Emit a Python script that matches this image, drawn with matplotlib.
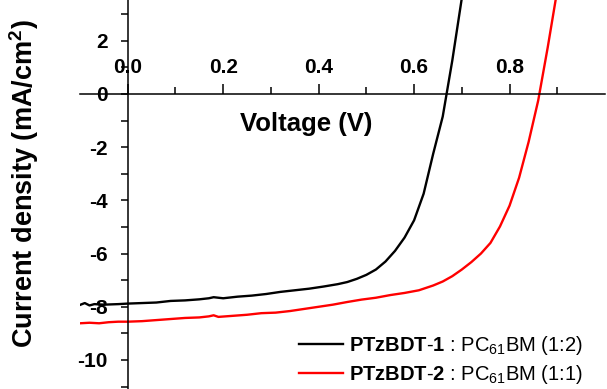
import matplotlib
matplotlib.use("Agg")
import matplotlib.pyplot as plt
from matplotlib.ticker import FixedLocator

plt.rcParams['font.family'] = ['Liberation Sans', 'DejaVu Sans']
plt.rcParams['mathtext.fontset'] = 'custom'
plt.rcParams['mathtext.rm'] = 'Liberation Sans'
plt.rcParams['mathtext.bf'] = 'Liberation Sans:bold'
plt.rcParams['mathtext.default'] = 'regular'
plt.rcParams['axes.unicode_minus'] = False

# ---- data ----
v_black = [-0.10, -0.09, -0.08, -0.07, -0.05, -0.02, 0.00, 0.03, 0.06, 0.09, 0.12,
           0.15, 0.17, 0.18, 0.20, 0.23, 0.26, 0.29, 0.32, 0.35, 0.38, 0.41, 0.44,
           0.46, 0.48, 0.50, 0.52, 0.54, 0.56, 0.58, 0.60, 0.62, 0.64, 0.66, 0.68,
           0.70, 0.72]
j_black = [-7.93, -7.86, -7.95, -7.90, -7.92, -7.90, -7.88, -7.86, -7.84, -7.78, -7.76,
           -7.72, -7.68, -7.64, -7.68, -7.62, -7.58, -7.52, -7.44, -7.38, -7.32, -7.24, -7.15,
           -7.07, -6.95, -6.80, -6.60, -6.30, -5.90, -5.40, -4.75, -3.75, -2.25, -0.85, 1.25,
           3.60, 6.00]

v_red = [-0.10, -0.08, -0.06, -0.04, -0.02, 0.00, 0.03, 0.06, 0.09, 0.12, 0.15, 0.17,
         0.18, 0.19, 0.22, 0.25, 0.28, 0.31, 0.34, 0.37, 0.40, 0.43, 0.46, 0.49, 0.52,
         0.55, 0.58, 0.61, 0.64, 0.66, 0.68, 0.70, 0.72, 0.74, 0.76, 0.78, 0.80, 0.82,
         0.84, 0.86, 0.88, 0.90, 0.92]
j_red = [-8.62, -8.60, -8.62, -8.58, -8.56, -8.56, -8.54, -8.50, -8.46, -8.42, -8.40, -8.36,
         -8.32, -8.38, -8.34, -8.30, -8.24, -8.22, -8.16, -8.08, -8.00, -7.92, -7.82, -7.73, -7.66,
         -7.56, -7.48, -7.38, -7.20, -7.05, -6.85, -6.60, -6.32, -6.00, -5.60, -4.98, -4.20, -3.15,
         -1.80, -0.25, 1.75, 3.90, 6.20]

labels = [r"$\mathbf{PTzBDT}$-$\mathbf{1}$ : PC$_{61}$BM (1:2)",
          r"$\mathbf{PTzBDT}$-$\mathbf{2}$ : PC$_{61}$BM (1:1)"]
colors = ['black', '#ff0000']

x_major = [0.0, 0.2, 0.4, 0.6, 0.8]
x_minor = [0.1, 0.3, 0.5, 0.7, 0.9]
x_ticklabels = ['0.0', '0.2', '0.4', '0.6', '0.8']
y_major = [-10, -8, -6, -4, -2, 0, 2]
y_minor = [-11, -9, -7, -5, -3, -1, 1, 3]
y_ticklabels = ['-10', '-8', '-6', '-4', '-2', '0', '2']

fig = plt.figure(figsize=(6.07, 3.89), dpi=100)
ax = fig.add_axes([80 / 607, 0.0, 525 / 607, 1.0])
ax.set_xlim(-0.1, 1.0)
ax.set_ylim(-11.09, 3.53)

for v, j, c, lab in zip([v_black, v_red], [j_black, j_red], colors, labels):
    ax.plot(v, j, color=c, lw=1.7, label=lab)

for s in ['right', 'bottom']:
    ax.spines[s].set_visible(False)
ax.spines['left'].set_position(('data', 0))
ax.spines['top'].set_position(('data', 0))
ax.spines['left'].set_linewidth(1.1)
ax.spines['top'].set_linewidth(1.1)

ax.xaxis.tick_top()
ax.xaxis.set_major_locator(FixedLocator(x_major))
ax.xaxis.set_minor_locator(FixedLocator(x_minor))
ax.yaxis.set_major_locator(FixedLocator(y_major))
ax.yaxis.set_minor_locator(FixedLocator(y_minor))
ax.tick_params(axis='x', which='major', direction='out', length=7, width=1.1, pad=5.0)
ax.tick_params(axis='x', which='minor', direction='out', length=5, width=1.1)
ax.tick_params(axis='y', which='both', direction='out', length=5, width=1.1, pad=9.5)
ax.set_xticklabels(x_ticklabels, fontsize=15, fontweight='bold')
ax.set_yticklabels(y_ticklabels, fontsize=15, fontweight='bold')

ax.text(0.374, -1.13, 'Voltage (V)', ha='center', va='center', fontsize=18.5,
        fontweight='bold')
fig.text(24 / 607, 1 - 184 / 389, r'Current density (mA/cm$^\mathbf{2}$)', rotation=90,
         ha='center', va='center', fontsize=19.5, fontweight='bold')

leg = ax.legend(loc='lower right', bbox_to_anchor=(0.974, -0.012), frameon=False,
                fontsize=14.5, handlelength=2.18, handletextpad=0.3, labelspacing=0.27,
                borderaxespad=0.0)

fig.savefig('out.png', dpi=100)
